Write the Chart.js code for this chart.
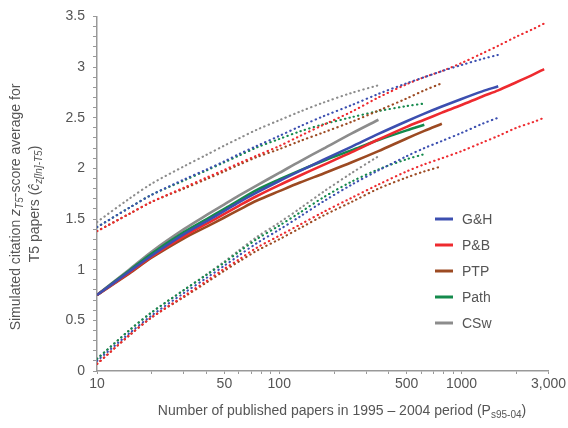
<!DOCTYPE html>
<html>
<head>
<meta charset="utf-8">
<script src="https://cdn.jsdelivr.net/npm/chart.js@4"></script>
<style>
  html, body { margin: 0; padding: 0; background: #fff; }
  #wrap { width: 568px; height: 428px; }
</style>
</head>
<body>
<div id="wrap"><canvas id="chart" width="568" height="428"></canvas></div>
<script>
// number of papers (x values shared by all series)
const nVals = [10, 15, 20, 30, 40, 50, 60, 75, 100, 130, 175, 250, 350, 500, 625, 780, 1000, 1300, 1590, 2000, 2500, 2840];

const fields = ["G&H", "P&B", "PTP", "Path", "CSw"];
const colors = ["#3c4fb0", "#ee2a2f", "#9c4a22", "#148a4c", "#8c8c8c"];

// mean curves (solid)
const meanGH   = [0.75, 0.98, 1.14, 1.35, 1.48, 1.58, 1.665, 1.76, 1.875, 1.975, 2.085, 2.215, 2.34, 2.465, 2.54, 2.61, 2.685, 2.76, 2.81];
const meanPB   = [0.75, 0.97, 1.13, 1.33, 1.455, 1.55, 1.63, 1.725, 1.835, 1.93, 2.035, 2.16, 2.285, 2.41, 2.48, 2.55, 2.625, 2.71, 2.77, 2.85, 2.93, 2.98];
const meanPTP  = [0.75, 0.96, 1.12, 1.31, 1.425, 1.515, 1.59, 1.68, 1.775, 1.86, 1.95, 2.06, 2.17, 2.295, 2.37, 2.44];
const meanPath = [0.75, 0.99, 1.16, 1.37, 1.50, 1.60, 1.685, 1.785, 1.89, 1.98, 2.075, 2.18, 2.28, 2.375, 2.43];
const meanCSw  = [0.75, 1.00, 1.18, 1.40, 1.54, 1.645, 1.73, 1.83, 1.955, 2.07, 2.195, 2.345, 2.48];

// upper bounds (dotted)
const upperGH   = [1.42, 1.61, 1.74, 1.89, 1.99, 2.07, 2.14, 2.22, 2.32, 2.415, 2.515, 2.625, 2.735, 2.84, 2.90, 2.96, 3.02, 3.08, 3.12];
const upperPB   = [1.38, 1.55, 1.67, 1.81, 1.91, 1.985, 2.05, 2.125, 2.22, 2.32, 2.43, 2.56, 2.70, 2.83, 2.90, 2.96, 3.04, 3.135, 3.21, 3.30, 3.38, 3.43];
const upperPTP  = [1.38, 1.55, 1.67, 1.80, 1.895, 1.97, 2.035, 2.11, 2.19, 2.27, 2.355, 2.46, 2.57, 2.69, 2.77, 2.84];
const upperPath = [1.42, 1.61, 1.74, 1.88, 1.98, 2.06, 2.125, 2.205, 2.29, 2.365, 2.435, 2.505, 2.565, 2.615, 2.64];
const upperCSw  = [1.47, 1.70, 1.85, 2.02, 2.135, 2.225, 2.295, 2.38, 2.475, 2.56, 2.65, 2.745, 2.82];

// lower bounds (dotted)
const lowerGH   = [0.10, 0.37, 0.55, 0.77, 0.92, 1.04, 1.14, 1.26, 1.395, 1.525, 1.675, 1.84, 1.98, 2.12, 2.20, 2.27, 2.35, 2.44, 2.50];
const lowerPB   = [0.07, 0.35, 0.53, 0.74, 0.89, 1.01, 1.10, 1.215, 1.335, 1.445, 1.57, 1.71, 1.84, 1.97, 2.04, 2.10, 2.17, 2.255, 2.32, 2.40, 2.46, 2.50];
const lowerPTP  = [0.07, 0.35, 0.53, 0.73, 0.875, 0.99, 1.08, 1.185, 1.30, 1.41, 1.535, 1.67, 1.80, 1.91, 1.97, 2.02];
const lowerPath = [0.12, 0.40, 0.58, 0.80, 0.95, 1.07, 1.175, 1.30, 1.435, 1.565, 1.715, 1.87, 1.99, 2.09, 2.14];
const lowerCSw  = [0.12, 0.40, 0.58, 0.80, 0.955, 1.08, 1.19, 1.32, 1.465, 1.605, 1.77, 1.955, 2.12];

const means  = [meanGH, meanPB, meanPTP, meanPath, meanCSw];
const uppers = [upperGH, upperPB, upperPTP, upperPath, upperCSw];
const lowers = [lowerGH, lowerPB, lowerPTP, lowerPath, lowerCSw];

const xMajor = [10, 50, 100, 500, 1000, 3000];
const xTicks = [10, 20, 30, 40, 50, 60, 70, 80, 90, 100, 200, 300, 400, 500, 600, 700, 800, 900, 1000, 2000, 3000];

const TEXT = "#555";
const FONT = "Liberation Sans, Arial, sans-serif";

function pts(arr) {
    return arr.map((v, i) => ({ x: nVals[i], y: v }));
}

function dotted(label, arr, color) {
    return {
        label, data: pts(arr), borderColor: color, borderWidth: 2.1,
        borderDash: [0.4, 4.2], borderCapStyle: "round",
        fill: false, pointRadius: 0, tension: 0.3, legend: false
    };
}

let datasets = [];
fields.forEach((f, i) => {
    datasets.push(dotted(f + " upper", uppers[i], colors[i]));
    datasets.push(dotted(f + " lower", lowers[i], colors[i]));
});
fields.forEach((f, i) => {
    datasets.push({ label: f, data: pts(means[i]), borderColor: colors[i], borderWidth: 2.6, fill: false, pointRadius: 0, tension: 0.3, legend: true });
});

// rich text with italic / subscript pieces
function drawRich(ctx, segs, cx, cy) {
    const size = 14, subSize = 10;
    let w = 0;
    segs.forEach(s => {
        ctx.font = (s.it ? "italic " : "") + (s.sub ? subSize : size) + "px " + FONT;
        s.w = ctx.measureText(s.t).width;
        w += s.w;
    });
    let x = cx - w / 2;
    ctx.textBaseline = "middle";
    ctx.textAlign = "left";
    segs.forEach(s => {
        ctx.font = (s.it ? "italic " : "") + (s.sub ? subSize : size) + "px " + FONT;
        ctx.fillText(s.t, x, cy + (s.sub ? 4 : 0));
        x += s.w;
    });
}

const extras = {
    id: "extras",
    afterDraw(chart) {
        const ctx = chart.ctx;
        ctx.save();
        ctx.fillStyle = TEXT;
        // x title
        drawRich(ctx, [
            { t: "Number of published papers in 1995 \u2013 2004 period (P" },
            { t: "s95-04", sub: true },
            { t: ")" }
        ], 342, 411);
        // y title, two lines
        ctx.save();
        ctx.translate(16, 207);
        ctx.rotate(-Math.PI / 2);
        drawRich(ctx, [
            { t: "Simulated citation " },
            { t: "z", it: true },
            { t: "T5", sub: true, it: true },
            { t: "-score average for" }
        ], 0, 0);
        ctx.restore();
        ctx.save();
        ctx.translate(35, 204);
        ctx.rotate(-Math.PI / 2);
        drawRich(ctx, [
            { t: "T5 papers (" },
            { t: "\u0109", it: true },
            { t: "z[ln]-T5", sub: true, it: true },
            { t: ")" }
        ], 0, 0);
        ctx.restore();
        // legend
        const items = chart.data.datasets.filter(d => d.legend);
        items.forEach((d, i) => {
            const y = 219 + i * 26;
            ctx.strokeStyle = d.borderColor;
            ctx.lineWidth = 3;
            ctx.beginPath();
            ctx.moveTo(435, y);
            ctx.lineTo(453, y);
            ctx.stroke();
            ctx.fillStyle = TEXT;
            ctx.font = "14px " + FONT;
            ctx.textAlign = "left";
            ctx.textBaseline = "middle";
            ctx.fillText(d.label, 462, y + 1);
        });
        ctx.restore();
    }
};

new Chart(document.getElementById("chart"), {
    type: "line",
    data: { datasets },
    options: {
        responsive: false,
        animation: false,
        layout: { padding: { top: 15, right: 18, left: 0, bottom: 0 } },
        plugins: { legend: { display: false }, tooltip: { enabled: false } },
        scales: {
            x: {
                type: "logarithmic",
                min: 10,
                max: 3000,
                afterBuildTicks(scale) {
                    scale.ticks = xTicks.map(v => ({ value: v }));
                },
                afterFit(scale) { scale.height = 57; },
                border: { color: "#999", width: 1.5 },
                grid: { drawOnChartArea: false, drawTicks: true, tickLength: 3, color: "#999" },
                ticks: {
                    autoSkip: false,
                    maxRotation: 0,
                    padding: 2,
                    color: TEXT,
                    font: { family: FONT, size: 14 },
                    callback: v => xMajor.includes(v) ? (v === 3000 ? "3,000" : String(v)) : ""
                }
            },
            y: {
                min: 0,
                max: 3.5,
                afterFit(scale) { scale.width = 97; },
                border: { color: "#999", width: 1.5 },
                grid: { drawOnChartArea: false, drawTicks: true, tickLength: 4, color: "#999" },
                ticks: {
                    stepSize: 0.1,
                    autoSkip: false,
                    padding: 8,
                    color: TEXT,
                    font: { family: FONT, size: 14 },
                    callback: v => {
                        const r = Math.round(v * 10);
                        return r % 5 === 0 ? String(r / 10) : "";
                    }
                }
            }
        }
    },
    plugins: [extras]
});
</script>
</body>
</html>
